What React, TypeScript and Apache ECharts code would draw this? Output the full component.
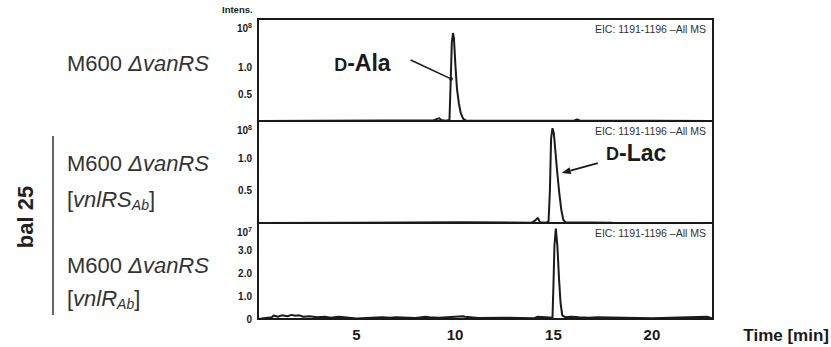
import React, { useEffect, useRef } from "react";
import * as echarts from "echarts";

// ---- data ----
const timeTicks = [5, 10, 15, 20];
const timeRange = [0, 23.1];

// Panel 1: M600 ΔvanRS (x10^8)
const p1Time = [0, 3, 6.5, 8.9, 9.1, 9.2, 9.3, 9.5, 9.72, 9.78, 9.84, 9.9, 9.95, 10.02, 10.1, 10.2, 10.3, 10.42, 10.55, 12, 16.05, 16.2, 16.35, 20, 23.1];
const p1Int = [0, 0.005, 0.01, 0.01, 0.04, 0.05, 0.02, 0.005, 0.02, 0.7, 1.45, 1.63, 1.52, 1.05, 0.6, 0.32, 0.14, 0.04, 0.01, 0.005, 0.005, 0.03, 0.005, 0.005, 0];

// Panel 2: M600 ΔvanRS [vnlRS_Ab] (x10^8)
const p2Time = [0, 5, 10.3, 13.9, 14.08, 14.2, 14.32, 14.6, 14.75, 14.82, 14.88, 14.95, 15.02, 15.1, 15.2, 15.3, 15.4, 15.5, 15.62, 18, 23.1];
const p2Int = [0, 0.005, 0.01, 0.005, 0.04, 0.08, 0.01, 0.005, 0.02, 0.5, 1.3, 1.46, 1.38, 1.1, 0.75, 0.45, 0.2, 0.05, 0.01, 0.005, 0];

// Panel 3: M600 ΔvanRS [vnlR_Ab] (x10^7)
const p3Time = [0, 0.7, 0.8, 1.0, 1.2, 1.5, 1.7, 1.9, 2.1, 2.3, 2.6, 3.0, 3.4, 3.7, 4.1, 5, 6.3, 6.7, 7.0, 8.0, 8.5, 8.7, 9.2, 10.4, 10.5, 11.2, 12.5, 14.0, 14.2, 14.95, 15.0, 15.05, 15.12, 15.2, 15.28, 15.36, 15.45, 15.6, 15.9, 16.3, 16.8, 17.2, 20, 22.8, 22.95, 23.1];
const p3Int = [0, 0.08, 0.15, 0.1, 0.16, 0.12, 0.18, 0.14, 0.16, 0.1, 0.12, 0.08, 0.1, 0.06, 0.1, 0.02, 0.08, 0.06, 0.08, 0.04, 0.1, 0.08, 0.06, 0.12, 0.1, 0.04, 0.06, 0.03, 0.1, 0.05, 1.5, 3.2, 3.96, 3.2, 1.8, 0.7, 0.15, 0.08, 0.1, 0.08, 0.06, 0.08, 0.03, 0.1, 0.06, 0];

const pair = (t: number[], v: number[]) => t.map((x, i) => [x, v[i]]);

const FONT = "Liberation Sans, Arial, sans-serif";
const INK = "#1a1a1a";

export default function App() {
  const ref = useRef<HTMLDivElement>(null);
  useEffect(() => {
    if (!ref.current) return;
    const chart = echarts.init(ref.current, undefined, { renderer: "svg" });
    const grids = [
      { left: 258, right: 118, top: 19, height: 102 },
      { left: 258, right: 118, top: 121, height: 102 },
      { left: 258, right: 118, top: 223, height: 96 },
    ].map((g) => ({ ...g, show: true, borderColor: INK, borderWidth: 2, backgroundColor: "transparent" }));

    const xAxes = [0, 1, 2].map((i) => ({
      type: "value",
      gridIndex: i,
      min: timeRange[0],
      max: timeRange[1],
      interval: 5,
      axisLine: { show: false },
      axisTick: { show: false },
      splitLine: { show: false },
      axisLabel: {
        show: i === 2,
        fontFamily: FONT,
        fontWeight: "bold",
        fontSize: 15,
        color: INK,
        margin: 8,
        showMinLabel: false,
        showMaxLabel: false,
        formatter: (v: number) => (timeTicks.includes(v) ? String(v) : ""),
      },
    }));

    const yMax = [1.89, 1.57, 4.2];
    const yAxes = [0, 1, 2].map((i) => ({
      type: "value",
      gridIndex: i,
      min: 0,
      max: yMax[i],
      interval: i === 2 ? 1 : 0.5,
      axisLine: { show: false },
      axisTick: { show: false },
      splitLine: { show: false },
      axisLabel: {
        fontFamily: FONT,
        fontWeight: "bold",
        fontSize: 10,
        color: INK,
        margin: 6,
        showMaxLabel: false,
        formatter: (v: number) => {
          if (i === 2) return v === 0 ? "0" : v <= 3 ? v.toFixed(1) : "";
          return v === 0.5 || v === 1 ? v.toFixed(1) : "";
        },
      },
    }));

    const datasets = [pair(p1Time, p1Int), pair(p2Time, p2Int), pair(p3Time, p3Int)];
    const series = datasets.map((d, i) => ({
      type: "line",
      xAxisIndex: i,
      yAxisIndex: i,
      data: d,
      showSymbol: false,
      lineStyle: { color: INK, width: 2 },
      silent: true,
    }));

    chart.setOption({
      animation: false,
      grid: grids,
      xAxis: xAxes,
      yAxis: yAxes,
      series,
    });

    const px = (g: number, t: number, v: number) => chart.convertToPixel({ gridIndex: g }, [t, v]) as number[];

    const eicY = [0, 1, 2].map((g) => px(g, 0, yMax[g])[1] + 10);
    const rightX = px(0, timeRange[1], 0)[0] - 7;
    const leftX = px(0, 0, 0)[0];

    const labelStyle = (extra: any) => ({ fontFamily: FONT, fill: "#333", ...extra });
    const strainRich = {
      i: { fontStyle: "italic", fontSize: 22, fontFamily: FONT, fill: "#333" },
      n: { fontSize: 22, fontFamily: FONT, fill: "#333" },
      s: { fontStyle: "italic", fontSize: 14, fontFamily: FONT, fill: "#333", padding: [11, 0, 0, 0] },
    };

    const alaText = px(0, 5.3, 1.07);
    const alaFrom = px(0, 7.75, 1.13);
    const alaTo = px(0, 9.8, 0.78);
    const lacText = px(1, 19.2, 1.08);
    const lacFrom = px(1, 17.25, 0.92);
    const lacTo = px(1, 15.42, 0.77);
    const dx = lacTo[0] - lacFrom[0];
    const dy = lacTo[1] - lacFrom[1];
    const len = Math.hypot(dx, dy);
    const ux = dx / len, uy = dy / len;
    const ah = 9, aw = 3.5;
    const bx = lacTo[0] - ux * ah, by = lacTo[1] - uy * ah;

    const annRich = {
      sc: { fontFamily: FONT, fontWeight: "bold", fontSize: 18, fill: INK, padding: [3, 0, 0, 0] },
      b: { fontFamily: FONT, fontWeight: "bold", fontSize: 23, fill: INK },
    };

    const graphic: any[] = [
      { type: "text", left: 222, top: 4, style: labelStyle({ text: "Intens.", fontSize: 9.5, fontWeight: "bold", fill: INK }) },
      ...[0, 1, 2].map((g) => ({
        type: "text",
        x: leftX - 6,
        y: px(g, 0, yMax[g])[1] + 9,
        style: {
          text: `{b|10}{sup|${g === 2 ? 7 : 8}}`,
          align: "right",
          verticalAlign: "middle",
          rich: {
            b: { fontFamily: FONT, fontWeight: "bold", fontSize: 10, fill: INK },
            sup: { fontFamily: FONT, fontWeight: "bold", fontSize: 7, fill: INK, padding: [0, 0, 6, 0] },
          },
        },
      })),
      ...eicY.map((y) => ({
        type: "text",
        x: rightX,
        y,
        style: labelStyle({ text: "EIC: 1191-1196 –All MS", fontSize: 10.5, fill: "#333", align: "right", verticalAlign: "middle" }),
      })),
      // strain labels
      { type: "text", x: 67, y: 63, style: { text: "{n|M600 }{i|ΔvanRS}", rich: strainRich, align: "left", verticalAlign: "middle" } },
      { type: "text", x: 67, y: 163, style: { text: "{n|M600 }{i|ΔvanRS}", rich: strainRich, align: "left", verticalAlign: "middle" } },
      { type: "text", x: 67, y: 199, style: { text: "{n|[}{i|vnlRS}{s|Ab}{n|]}", rich: strainRich, align: "left", verticalAlign: "middle" } },
      { type: "text", x: 67, y: 265, style: { text: "{n|M600 }{i|ΔvanRS}", rich: strainRich, align: "left", verticalAlign: "middle" } },
      { type: "text", x: 67, y: 298, style: { text: "{n|[}{i|vnlR}{s|Ab}{n|]}", rich: strainRich, align: "left", verticalAlign: "middle" } },
      // bal 25 bracket
      { type: "line", shape: { x1: 53, y1: 136, x2: 53, y2: 315 }, style: { stroke: "#333", lineWidth: 1.5 } },
      {
        type: "text",
        x: 25,
        y: 217,
        rotation: Math.PI / 2,
        style: { text: "bal 25", fontFamily: FONT, fontWeight: "bold", fontSize: 22, fill: "#222", align: "center", verticalAlign: "middle" },
      },
      // annotations
      { type: "text", x: alaText[0], y: alaText[1], style: { text: "{sc|D}{b|-Ala}", align: "center", verticalAlign: "middle", rich: annRich } },
      { type: "line", shape: { x1: alaFrom[0], y1: alaFrom[1], x2: alaTo[0], y2: alaTo[1] }, style: { stroke: INK, lineWidth: 1.5 } },
      { type: "circle", shape: { cx: alaTo[0], cy: alaTo[1], r: 1.8 }, style: { fill: INK } },
      { type: "text", x: lacText[0], y: lacText[1], style: { text: "{sc|D}{b|-Lac}", align: "center", verticalAlign: "middle", rich: annRich } },
      { type: "line", shape: { x1: lacFrom[0], y1: lacFrom[1], x2: bx, y2: by }, style: { stroke: INK, lineWidth: 1.8 } },
      {
        type: "polygon",
        shape: { points: [[lacTo[0], lacTo[1]], [bx - uy * aw, by + ux * aw], [bx + uy * aw, by - ux * aw]] },
        style: { fill: INK },
      },
      // axis title
      {
        type: "text",
        x: 829,
        y: 335,
        style: { text: "Time [min]", fontFamily: FONT, fontWeight: "bold", fontSize: 17, fill: INK, align: "right", verticalAlign: "middle" },
      },
    ];

    chart.setOption({ graphic });

    return () => chart.dispose();
  }, []);

  return <div ref={ref} style={{ width: 831, height: 347, position: "absolute", left: 0, top: 0 }} />;
}
